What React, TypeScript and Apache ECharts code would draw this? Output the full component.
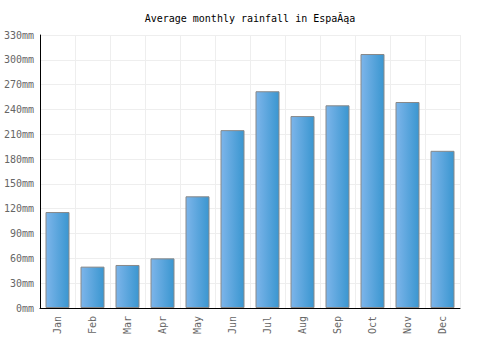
import React, { useEffect, useRef } from "react";
import * as echarts from "echarts";

const months = ["Jan", "Feb", "Mar", "Apr", "May", "Jun", "Jul", "Aug", "Sep", "Oct", "Nov", "Dec"];
const rainfall = [116, 50, 52, 60, 135, 215, 262, 232, 245, 307, 249, 190];
const titleText = "Average monthly rainfall in EspaĂąa";

export default function App() {
  const ref = useRef<HTMLDivElement>(null);
  useEffect(() => {
    document.body.style.margin = "0";
    if (!ref.current) return;
    const chart = echarts.init(ref.current, null, { renderer: "svg" });
    const font = "'DejaVu Sans Mono', monospace";
    chart.setOption({
      animation: false,
      title: {
        text: titleText,
        left: "center",
        top: 8,
        textStyle: { fontFamily: font, fontSize: 10, fontWeight: "normal", color: "#000" },
      },
      grid: { left: 40, right: 40, top: 35, bottom: 42 },
      xAxis: {
        type: "category",
        data: months,
        axisLine: { lineStyle: { color: "#000", width: 1 } },
        axisTick: { show: false },
        axisLabel: { rotate: 90, color: "#666", fontFamily: font, fontSize: 10, margin: 8 },
        splitLine: { show: true, lineStyle: { color: "#eee" } },
      },
      yAxis: {
        type: "value",
        min: 0,
        max: 330,
        interval: 30,
        axisLine: { show: true, lineStyle: { color: "#000", width: 1 } },
        axisTick: { show: false },
        axisLabel: { color: "#666", fontFamily: font, fontSize: 10, formatter: "{value}mm", margin: 6 },
        splitLine: { lineStyle: { color: "#eee" } },
      },
      series: [
        {
          type: "bar",
          data: rainfall,
          barWidth: 24,
          itemStyle: {
            borderColor: "#888",
            borderWidth: 1,
            color: new echarts.graphic.LinearGradient(0, 0, 1, 0, [
              { offset: 0, color: "#7db5ea" },
              { offset: 1, color: "#3a96d0" },
            ]),
          },
        },
      ],
    });
    return () => chart.dispose();
  }, []);
  return <div ref={ref} style={{ width: 500, height: 350 }} />;
}
